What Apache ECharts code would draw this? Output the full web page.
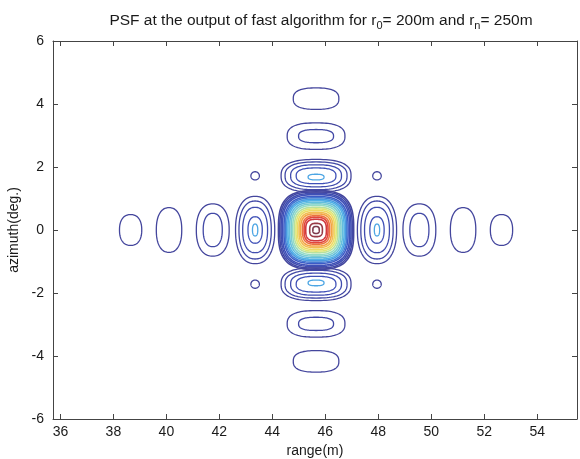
<!DOCTYPE html>
<html>
<head>
<meta charset="utf-8">
<script src="https://cdn.jsdelivr.net/npm/echarts@6/dist/echarts.min.js"></script>
<style>
  html, body { margin: 0; padding: 0; background: #fff; }
  #chart { width: 580px; height: 459px; }
</style>
</head>
<body>
<div id="chart"></div>
<script>
// Axis ticks
const rangeTicks = [36, 38, 40, 42, 44, 46, 48, 50, 52, 54];
const azimuthTicks = [-6, -4, -2, 0, 2, 4, 6];

// Contour rings of the point spread function.
// Each ring: [range centre (m), azimuth centre (deg), half width in range (m), half height in azimuth (deg), contour level]
const mainLobeRings = [
  [45.65, 0, 1.42, 1.25, 0.01], [45.65, 0, 1.37, 1.21, 0.04], [45.65, 0, 1.32, 1.16, 0.07],
  [45.65, 0, 1.27, 1.12, 0.10], [45.65, 0, 1.21, 1.06, 0.15], [45.65, 0, 1.16, 1.02, 0.20],
  [45.65, 0, 1.11, 0.97, 0.25], [45.65, 0, 1.06, 0.93, 0.29], [45.65, 0, 1.00, 0.88, 0.33],
  [45.65, 0, 0.94, 0.83, 0.38], [45.65, 0, 0.88, 0.78, 0.43], [45.65, 0, 0.82, 0.72, 0.49],
  [45.65, 0, 0.76, 0.67, 0.55], [45.65, 0, 0.70, 0.62, 0.60], [45.65, 0, 0.64, 0.56, 0.66],
  [45.65, 0, 0.58, 0.51, 0.71], [45.65, 0, 0.51, 0.45, 0.78], [45.65, 0, 0.45, 0.40, 0.84],
  [45.65, 0, 0.39, 0.34, 0.88], [45.65, 0, 0.24, 0.21, 0.96], [45.65, 0, 0.12, 0.11, 1.00]
];
const azimuthLobeRings = [
  [45.65, 1.72, 1.32, 0.52, 0.01], [45.65, 1.72, 1.17, 0.44, 0.04], [45.65, 1.72, 0.96, 0.35, 0.07],
  [45.65, 1.72, 0.75, 0.25, 0.10], [45.65, 1.68, 0.30, 0.09, 0.27],
  [45.65, -1.72, 1.32, 0.52, 0.01], [45.65, -1.72, 1.17, 0.44, 0.04], [45.65, -1.72, 0.96, 0.35, 0.07],
  [45.65, -1.72, 0.75, 0.25, 0.10], [45.65, -1.68, 0.30, 0.09, 0.27],
  [45.65, 2.98, 1.09, 0.42, 0.01], [45.65, 2.98, 0.66, 0.21, 0.04],
  [45.65, -2.98, 1.09, 0.42, 0.01], [45.65, -2.98, 0.66, 0.21, 0.04],
  [45.65, 4.17, 0.86, 0.34, 0.01],
  [45.65, -4.17, 0.86, 0.34, 0.01]
];
const rangeLobeRings = [
  [43.35, 0, 0.74, 1.07, 0.01], [43.35, 0, 0.61, 0.92, 0.04], [43.35, 0, 0.47, 0.72, 0.07],
  [43.35, 0, 0.27, 0.42, 0.10], [43.35, 0, 0.10, 0.19, 0.27],
  [47.95, 0, 0.74, 1.07, 0.01], [47.95, 0, 0.61, 0.92, 0.04], [47.95, 0, 0.47, 0.72, 0.07],
  [47.95, 0, 0.27, 0.42, 0.10], [47.95, 0, 0.10, 0.19, 0.27],
  [41.75, 0, 0.62, 0.83, 0.01], [41.75, 0, 0.36, 0.53, 0.04],
  [49.55, 0, 0.62, 0.83, 0.01], [49.55, 0, 0.36, 0.53, 0.04],
  [40.10, 0, 0.48, 0.71, 0.01],
  [51.20, 0, 0.48, 0.71, 0.01],
  [38.65, 0, 0.42, 0.49, 0.01],
  [52.65, 0, 0.42, 0.49, 0.01]
];
const diagonalLobeRings = [
  [43.35, 1.72, 0.16, 0.13, 0.01], [47.95, 1.72, 0.16, 0.13, 0.01],
  [43.35, -1.72, 0.16, 0.13, 0.01], [47.95, -1.72, 0.16, 0.13, 0.01]
];

// jet-like colour scale for the contour levels
const levelColors = ['#45459a', '#3c55c4', '#4fb0e8', '#93dcc4', '#ece86a', '#f4a244', '#e0393a', '#7e3a4c'];

const FONT = '"Liberation Sans", Arial, Helvetica, sans-serif';
const INK = '#1a1a1a';

// Draws each ring as a closed rounded curve in data space; squareness 2 = ellipse.
function ringRenderer(squareness, width) {
  const e = 2 / squareness;
  return function (params, api) {
    const cx = api.value(0), cy = api.value(1), rx = api.value(2), ry = api.value(3);
    const pts = [];
    const N = 96;
    for (let k = 0; k < N; k++) {
      const t = 2 * Math.PI * k / N;
      const c = Math.cos(t), s = Math.sin(t);
      const x = cx + rx * Math.sign(c) * Math.pow(Math.abs(c), e);
      const y = cy + ry * Math.sign(s) * Math.pow(Math.abs(s), e);
      pts.push(api.coord([x, y]));
    }
    return {
      type: 'polygon',
      shape: { points: pts },
      style: { fill: 'none', stroke: api.visual('color'), lineWidth: width },
      silent: true
    };
  };
}

function ringSeries(data, squareness, width) {
  return {
    type: 'custom',
    xAxisIndex: 0,
    yAxisIndex: 0,
    clip: true,
    renderItem: ringRenderer(squareness, width),
    data: data,
    animation: false
  };
}

const xMin = 35.72, xMax = 55.5;

const axisLineStyle = { color: '#444', width: 1 };

const chart = echarts.init(document.getElementById('chart'), null, { renderer: 'canvas' });
chart.setOption({
  animation: false,
  backgroundColor: '#ffffff',
  textStyle: { fontFamily: FONT },
  title: {
    text: '{a|PSF at the output of fast algorithm for r}{s|0}{a|= 200m and r}{s|n}{a|= 250m}',
    left: 316,
    top: 7,
    textAlign: 'center',
    textStyle: {
      fontWeight: 'normal',
      rich: {
        a: { fontFamily: FONT, fontSize: 15.5, fontWeight: 'normal', color: INK, lineHeight: 18 },
        s: { fontFamily: FONT, fontSize: 11, fontWeight: 'normal', color: INK, lineHeight: 11, padding: [10, 0, 0, 0] }
      }
    }
  },
  grid: { left: 53, right: 3, top: 41, bottom: 40, containLabel: false, outerBoundsMode: 'none' },
  visualMap: {
    type: 'continuous',
    show: false,
    min: 0,
    max: 1,
    dimension: 4,
    seriesIndex: [0, 1, 2, 3],
    inRange: { color: levelColors }
  },
  xAxis: [
    {
      type: 'value', min: xMin, max: xMax, position: 'bottom',
      name: 'range(m)', nameLocation: 'middle', nameGap: 24,
      nameTextStyle: { fontFamily: FONT, fontSize: 14, color: INK },
      axisLine: { onZero: false, lineStyle: axisLineStyle },
      axisTick: { inside: true, length: 5, customValues: rangeTicks, lineStyle: axisLineStyle },
      axisLabel: { customValues: rangeTicks, fontFamily: FONT, fontSize: 14, color: INK, margin: 6 },
      splitLine: { show: false }
    },
    {
      type: 'value', min: xMin, max: xMax, position: 'top',
      axisLine: { onZero: false, lineStyle: axisLineStyle },
      axisTick: { inside: true, length: 5, customValues: rangeTicks, lineStyle: axisLineStyle },
      axisLabel: { show: false },
      splitLine: { show: false }
    }
  ],
  yAxis: [
    {
      type: 'value', min: -6, max: 6, position: 'left',
      name: 'azimuth(deg.)', nameLocation: 'middle', nameGap: 30, nameRotate: 90,
      nameTextStyle: { fontFamily: FONT, fontSize: 14, color: INK },
      axisLine: { onZero: false, lineStyle: axisLineStyle },
      axisTick: { inside: true, length: 5, customValues: azimuthTicks, lineStyle: axisLineStyle },
      axisLabel: { customValues: azimuthTicks, fontFamily: FONT, fontSize: 14, color: INK, margin: 9 },
      splitLine: { show: false }
    },
    {
      type: 'value', min: -6, max: 6, position: 'right',
      axisLine: { onZero: false, lineStyle: axisLineStyle },
      axisTick: { inside: true, length: 5, customValues: azimuthTicks, lineStyle: axisLineStyle },
      axisLabel: { show: false },
      splitLine: { show: false }
    }
  ],
  series: [
    ringSeries(mainLobeRings, 3.0, 1.6),
    ringSeries(azimuthLobeRings, 2.6, 1.3),
    ringSeries(rangeLobeRings, 2.3, 1.3),
    ringSeries(diagonalLobeRings, 2.0, 1.3)
  ]
});
</script>
</body>
</html>
